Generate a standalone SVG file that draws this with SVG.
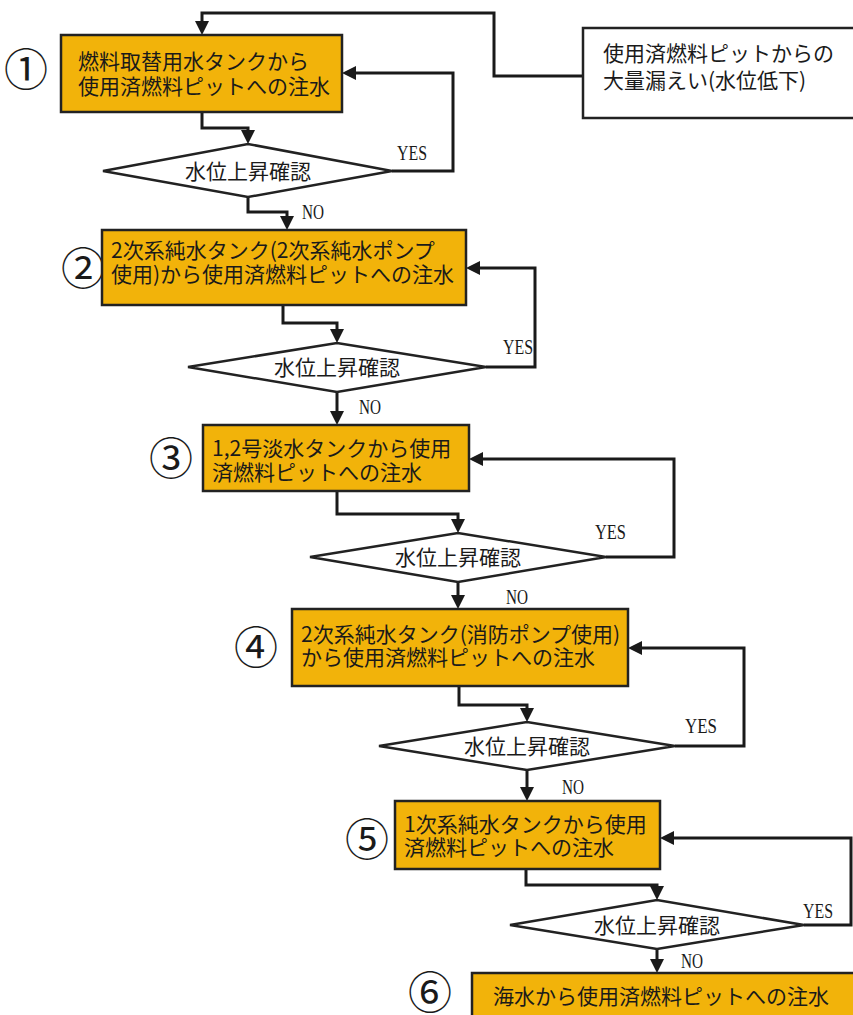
<svg xmlns="http://www.w3.org/2000/svg" width="853" height="1015" viewBox="0 0 853 1015">
<style>
.box{fill:#F2B30A;stroke:#222;stroke-width:2.5}
.wbox{fill:#fff;stroke:#222;stroke-width:2.5}
.dia{fill:#fff;stroke:#222;stroke-width:2.5}
.t{font-family:"Noto Sans CJK JP","Noto Sans CJK SC",sans-serif;font-size:21px;fill:#1a1a1a}
.dt{font-family:"Noto Sans CJK JP","Noto Sans CJK SC",sans-serif;font-size:21px;fill:#1a1a1a;text-anchor:middle}
.num{font-family:"Noto Sans CJK JP","Noto Sans CJK SC",sans-serif;font-size:44px;fill:#1a1a1a;text-anchor:middle}
.lbl{font-family:"Liberation Serif",serif;font-size:22px;fill:#1a1a1a}
.c{fill:none;stroke:#1a1a1a;stroke-width:3;stroke-linejoin:miter;marker-end:url(#ah)}
</style>
<defs>
<marker id="ah" markerUnits="userSpaceOnUse" markerWidth="14" markerHeight="14" refX="10" refY="7" orient="auto">
<path d="M0,0 L14,7 L0,14 z" fill="#1a1a1a"/>
</marker>
</defs>
<rect width="853" height="1015" fill="#fff"/>

<g id="connectors">
<path class="c" d="M583,76 H494 V13 H202 V31"/>
<path class="c" d="M202,112 V128 H248 V140"/>
<path class="c" d="M392,171 H453 V73 H346"/>
<path class="c" d="M248,197 V212 H287 V226"/>
<path class="c" d="M283,305 V323 H337 V339"/>
<path class="c" d="M486,367 H535 V268 H470"/>
<path class="c" d="M337,392 V421"/>
<path class="c" d="M337,491 V514 H458 V529"/>
<path class="c" d="M606,557 H674 V459 H473"/>
<path class="c" d="M458,582 V605"/>
<path class="c" d="M459,686 V705 H527 V718"/>
<path class="c" d="M675,746 H744 V648 H632"/>
<path class="c" d="M527,770 V797"/>
<path class="c" d="M526,869 V885 H657 V896"/>
<path class="c" d="M804,925 H851 V838 H664"/>
<path class="c" d="M657,949 V969"/>
</g>

<g id="start">
<rect class="wbox" x="583" y="28" width="275" height="90"/>
<text class="t" x="603" y="61">使用済燃料ピットからの</text>
<text class="t" x="603" y="88">大量漏えい(水位低下)</text>
</g>

<g id="step1">
<text class="num" x="26" y="86">①</text>
<rect class="box" x="61" y="35" width="281" height="77"/>
<text class="t" x="78" y="69">燃料取替用水タンクから</text>
<text class="t" x="78" y="94">使用済燃料ピットへの注水</text>
</g>
<g id="check1">
<polygon class="dia" points="103,171 248,144 392,171 248,197"/>
<text class="dt" x="248" y="179">水位上昇確認</text>
<text class="lbl" x="397" y="160" textLength="30" lengthAdjust="spacingAndGlyphs">YES</text>
<text class="lbl" x="302" y="219" textLength="22" lengthAdjust="spacingAndGlyphs">NO</text>
</g>

<g id="step2">
<text class="num" x="83" y="285">②</text>
<rect class="box" x="102" y="230" width="364" height="75"/>
<text class="t" x="111" y="258">2次系純水タンク(2次系純水ポンプ</text>
<text class="t" x="111" y="282">使用)から使用済燃料ピットへの注水</text>
</g>
<g id="check2">
<polygon class="dia" points="188,367 337,343 486,367 337,392"/>
<text class="dt" x="337" y="375">水位上昇確認</text>
<text class="lbl" x="503" y="354" textLength="30" lengthAdjust="spacingAndGlyphs">YES</text>
<text class="lbl" x="359" y="414" textLength="22" lengthAdjust="spacingAndGlyphs">NO</text>
</g>

<g id="step3">
<text class="num" x="171" y="475">③</text>
<rect class="box" x="203" y="425" width="266" height="66"/>
<text class="t" x="212" y="456">1,2号淡水タンクから使用</text>
<text class="t" x="212" y="480">済燃料ピットへの注水</text>
</g>
<g id="check3">
<polygon class="dia" points="310,557 458,533 606,557 458,582"/>
<text class="dt" x="458" y="565">水位上昇確認</text>
<text class="lbl" x="595" y="539" textLength="31" lengthAdjust="spacingAndGlyphs">YES</text>
<text class="lbl" x="506" y="604" textLength="22" lengthAdjust="spacingAndGlyphs">NO</text>
</g>

<g id="step4">
<text class="num" x="256" y="664">④</text>
<rect class="box" x="292" y="609" width="336" height="77"/>
<text class="t" x="301" y="642">2次系純水タンク(消防ポンプ使用)</text>
<text class="t" x="301" y="665">から使用済燃料ピットへの注水</text>
</g>
<g id="check4">
<polygon class="dia" points="379,746 527,722 675,746 527,770"/>
<text class="dt" x="527" y="754">水位上昇確認</text>
<text class="lbl" x="685" y="733" textLength="32" lengthAdjust="spacingAndGlyphs">YES</text>
<text class="lbl" x="562" y="794" textLength="22" lengthAdjust="spacingAndGlyphs">NO</text>
</g>

<g id="step5">
<text class="num" x="367" y="856">⑤</text>
<rect class="box" x="395" y="801" width="265" height="68"/>
<text class="t" x="404" y="832">1次系純水タンクから使用</text>
<text class="t" x="404" y="855">済燃料ピットへの注水</text>
</g>
<g id="check5">
<polygon class="dia" points="510,925 657,900 804,925 657,949"/>
<text class="dt" x="657" y="933">水位上昇確認</text>
<text class="lbl" x="803" y="918" textLength="30" lengthAdjust="spacingAndGlyphs">YES</text>
<text class="lbl" x="681" y="968" textLength="22" lengthAdjust="spacingAndGlyphs">NO</text>
</g>

<g id="step6">
<text class="num" x="430" y="1009">⑥</text>
<rect class="box" x="472" y="973" width="390" height="60"/>
<text class="t" x="493" y="1004">海水から使用済燃料ピットへの注水</text>
</g>
</svg>
